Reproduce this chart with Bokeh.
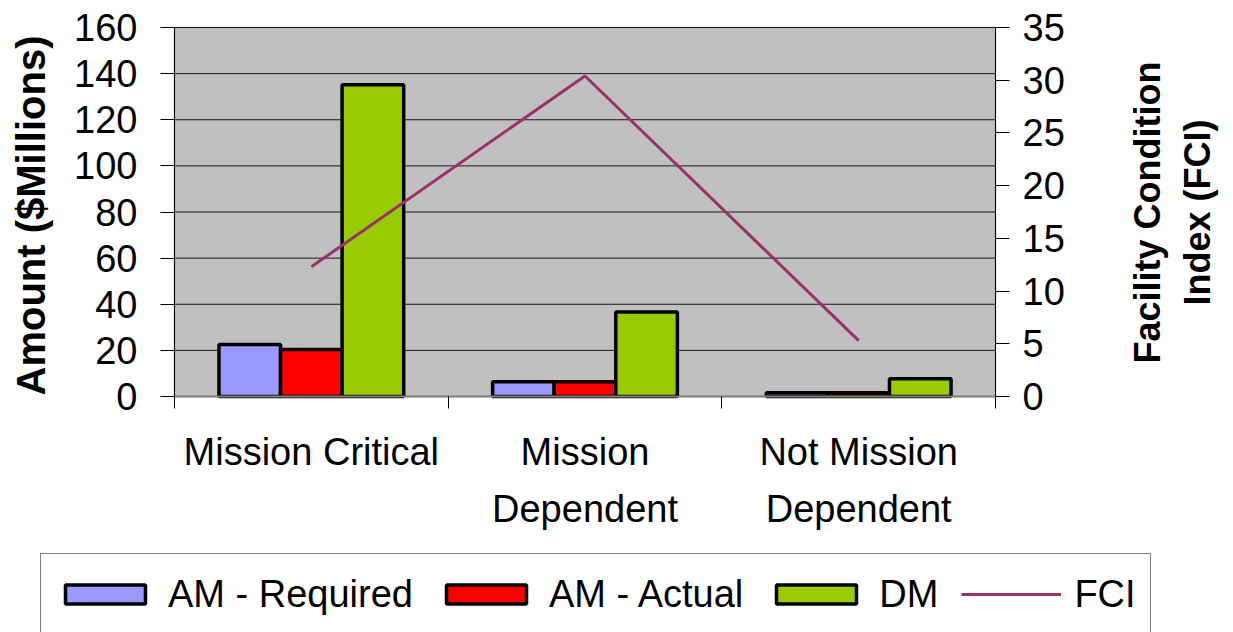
import math
from bokeh.plotting import figure
from bokeh.models import (LinearAxis, Range1d, FixedTicker, Legend, LegendItem,
                          ColumnDataSource, BoxAnnotation, Label)
from bokeh.embed import file_html
from bokeh.resources import INLINE

# ---- data ----
categories = ["Mission Critical", "Mission\nDependent", "Not Mission\nDependent"]
am_required = [22.6, 6.4, 1.6]
am_actual = [20.4, 6.4, 1.6]
dm = [135.2, 36.6, 7.7]
fci = [12.3, 30.4, 5.3]
left_ticks = [0, 20, 40, 60, 80, 100, 120, 140, 160]
right_ticks = [0, 5, 10, 15, 20, 25, 30, 35]
series_labels = ["AM - Required", "AM - Actual", "DM", "FCI"]

# ---- layout constants (pixels) ----
FONT = "Liberation Sans"
W, H = 1233, 632
AREA_L, AREA_R, AREA_T, AREA_B = 174, 995, 27, 396   # plot-area edges on the page
BAR_W = 0.225
COLORS = ["#9999FF", "#FF0000", "#99CC00", "#993366"]

n = len(categories)
centers = [i + 0.5 for i in range(n)]
amt_max = left_ticks[-1]
fci_max = right_ticks[-1]

# scales: one frame covering the whole canvas, plot area placed inside it
cat_px = (AREA_R - AREA_L) / n
amt_px = (AREA_B - AREA_T) / amt_max
fci_px = (AREA_B - AREA_T) / fci_max
x_range = Range1d(-AREA_L / cat_px, (W - AREA_L) / cat_px)
y_range = Range1d(-(H - AREA_B) / amt_px, amt_max + AREA_T / amt_px)
fci_range = Range1d(-(H - AREA_B) / fci_px, fci_max + AREA_T / fci_px)

p = figure(width=W, height=H, x_range=x_range, y_range=y_range,
           x_axis_location=None, y_axis_location=None,
           output_backend="svg", toolbar_location=None,
           min_border=0, min_border_left=0, min_border_right=0,
           min_border_top=0, min_border_bottom=0,
           background_fill_color="white", border_fill_color="white",
           outline_line_color=None)
p.grid.visible = False
p.extra_y_ranges = {"fci": fci_range}

# plot area background and gridlines
p.add_layout(BoxAnnotation(left=0, right=n, bottom=left_ticks[0], top=amt_max,
                           fill_color="#C0C0C0", fill_alpha=1.0,
                           line_color="#808080", line_width=2, level="underlay"))
p.segment(x0=[0] * len(left_ticks), x1=[n] * len(left_ticks),
          y0=left_ticks, y1=left_ticks, line_color="#1a1a1a", line_width=1)

src = ColumnDataSource(dict(
    xr=[c - BAR_W for c in centers], xa=centers, xd=[c + BAR_W for c in centers],
    req=am_required, act=am_actual, dm=dm, xc=centers, fci=fci))

r1 = p.vbar(x="xr", top="req", width=BAR_W, source=src, fill_color=COLORS[0],
            line_color="black", line_width=3.5)
r2 = p.vbar(x="xa", top="act", width=BAR_W, source=src, fill_color=COLORS[1],
            line_color="black", line_width=3.5)
r3 = p.vbar(x="xd", top="dm", width=BAR_W, source=src, fill_color=COLORS[2],
            line_color="black", line_width=3.5)
r4 = p.line(x="xc", y="fci", source=src, y_range_name="fci", line_color=COLORS[3],
            line_width=3)

# left axis
ya = LinearAxis(fixed_location=0, bounds=(0, amt_max),
                ticker=FixedTicker(ticks=left_ticks))
ya.major_label_text_font = FONT
ya.major_label_text_font_size = "38px"
ya.major_label_text_color = "black"
ya.major_label_standoff = 23
ya.major_tick_out = 14
ya.major_tick_in = 0
ya.minor_tick_line_color = None
ya.axis_line_color = "black"
ya.major_tick_line_color = "black"
p.add_layout(ya, "left")

# right axis
ra = LinearAxis(y_range_name="fci", fixed_location=n, bounds=(0, fci_max),
                ticker=FixedTicker(ticks=right_ticks))
ra.major_label_text_font = FONT
ra.major_label_text_font_size = "38px"
ra.major_label_text_color = "black"
ra.major_label_standoff = 13
ra.major_tick_out = 14
ra.major_tick_in = 0
ra.minor_tick_line_color = None
ra.axis_line_color = "black"
p.add_layout(ra, "right")

# bottom axis: ticks between categories, labels under each category
xa = LinearAxis(fixed_location=0, bounds=(0, n),
                ticker=FixedTicker(ticks=centers, minor_ticks=list(range(n + 1))))
xa.major_label_overrides = {c: lab for c, lab in zip(centers, categories)}
xa.major_label_text_font = FONT
xa.major_label_text_font_size = "38px"
xa.major_label_text_color = "black"
xa.major_label_text_line_height = 1.36
xa.major_label_standoff = 22
xa.major_tick_line_color = None
xa.major_tick_out = 0
xa.minor_tick_out = 12
xa.minor_tick_in = 0
xa.minor_tick_line_color = "black"
xa.axis_line_color = "#808080"
xa.axis_line_width = 2
p.add_layout(xa, "below")

# axis titles (read bottom-to-top)
p.add_layout(Label(x=(30 - AREA_L) / cat_px, y=(AREA_B - 215) / amt_px,
                   text="Amount ($Millions)", angle=math.pi / 2,
                   text_align="center", text_baseline="middle",
                   text_font=FONT, text_font_style="bold", text_font_size="40px",
                   text_color="black"))
p.add_layout(Label(x=(1172 - AREA_L) / cat_px, y=(AREA_B - 212) / amt_px,
                   text="Facility Condition\nIndex (FCI)", angle=math.pi / 2,
                   text_align="center", text_baseline="middle",
                   text_font=FONT, text_font_style="bold", text_font_size="36px",
                   text_color="black", text_line_height=1.2))

# legend (bottom edge runs past the page, as in the reference)
legend = Legend(items=[LegendItem(label=lab, renderers=[r])
                       for lab, r in zip(series_labels, [r1, r2, r3, r4])],
                orientation="horizontal", location=(40, -3),
                glyph_width=100, glyph_height=24, label_height=52,
                label_standoff=13, spacing=23, padding=14, margin=0,
                label_text_font=FONT, label_text_font_size="38px",
                label_text_color="black",
                border_line_color="black", border_line_width=1,
                background_fill_color="white")
p.add_layout(legend)

open("out.html", "w").write(file_html(p, INLINE))
